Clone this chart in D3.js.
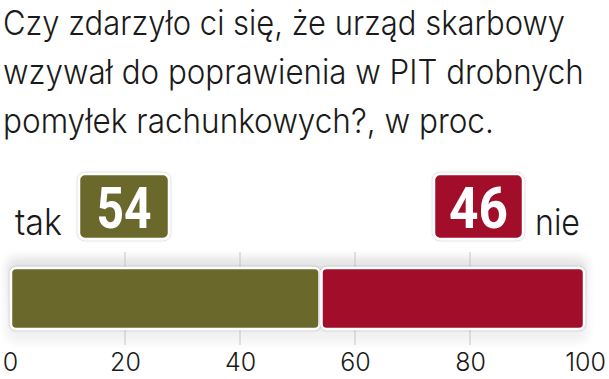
<!DOCTYPE html>
<html><head><meta charset="utf-8">
<script src="https://cdn.jsdelivr.net/npm/d3@7"></script>
<style>body{margin:0;background:#fff}svg{display:block}</style>
</head><body>
<script>
const titleLines = ["Czy zdarzyło ci się, że urząd skarbowy","wzywał do poprawienia w PIT drobnych","pomyłek rachunkowych?, w proc."];
const categories = ["tak","nie"];
const values = [54,46];
const colors = ["#6b6829","#a20e2b"];
const tickValues = [0,20,40,60,80,100];

const W=609,H=379;
const LIGHT="Inter";
const svg=d3.select("body").append("svg").attr("width",W).attr("height",H);
const defs=svg.append("defs");
const blur=defs.append("filter").attr("id","blur").attr("x","-10%").attr("y","-30%").attr("width","120%").attr("height","160%");
blur.append("feGaussianBlur").attr("stdDeviation",4);
const sh=defs.append("filter").attr("id","sh").attr("x","-20%").attr("y","-20%").attr("width","140%").attr("height","140%");
sh.append("feDropShadow").attr("dx",0).attr("dy",0).attr("stdDeviation",1.2).attr("flood-color","#000").attr("flood-opacity",0.35);
const grad=defs.append("linearGradient").attr("id","pg").attr("x1",0).attr("y1",0).attr("x2",0).attr("y2",1);
grad.append("stop").attr("offset",0).attr("stop-color","#e4e4e4");
grad.append("stop").attr("offset",1).attr("stop-color","#f3f3f3");

// fit a text horizontally to a target width by scaling
function fitX(sel, x0, y0, target, anchor){
  sel.each(function(d,i){
    const t=d3.select(this);
    const len=this.getComputedTextLength();
    const tw=typeof target==="function"?target(d,i):target;
    const xx=typeof x0==="function"?x0(d,i):x0;
    const yy=typeof y0==="function"?y0(d,i):y0;
    t.attr("x",0).attr("y",0).attr("transform",`translate(${xx},${yy}) scale(${tw/len},1)`);
  });
}

// title
const tfs=34, tLens=[562,581,491], tBase=[35,84,133];
const tt=svg.append("g").selectAll("text").data(titleLines).join("text")
  .attr("font-family",LIGHT).attr("font-weight",300).attr("font-size",tfs)
  .attr("fill","#1a1a1a").text(d=>d);
fitX(tt,3,(d,i)=>tBase[i],(d,i)=>tLens[i]);

const x=d3.scaleLinear().domain([0,100]).range([10,585]);

// shadow panel
svg.append("rect").attr("x",6).attr("y",257).attr("width",582).attr("height",86).attr("rx",10)
  .attr("fill","url(#pg)").attr("filter","url(#blur)");

// grid ticks
svg.append("g").selectAll("line").data(tickValues.filter(d=>d>0&&d<100)).join("line")
  .attr("x1",d=>x(d)).attr("x2",d=>x(d)).attr("y1",252).attr("y2",345)
  .attr("stroke","#c4c4c4").attr("stroke-width",1);

// bars
const stack=[]; let acc=0;
values.forEach((v,i)=>{stack.push({c:categories[i],v,x0:acc,x1:acc+v,col:colors[i]});acc+=v;});
svg.append("g").selectAll("rect").data(stack).join("rect")
  .attr("x",d=>x(d.x0)+1).attr("width",d=>x(d.x1)-x(d.x0)-2)
  .attr("y",268).attr("height",61).attr("rx",5)
  .attr("fill",d=>d.col).attr("stroke","#fff").attr("stroke-width",2.5)
  .attr("filter","url(#sh)");

// axis labels
const axis=d3.axisBottom(x).tickValues(tickValues).tickSize(0).tickPadding(0);
const ag=svg.append("g").attr("transform","translate(0,352)").call(axis);
ag.select(".domain").remove();
ag.selectAll("text").attr("font-family",LIGHT).attr("font-weight",300).attr("font-size",25)
  .attr("fill","#1a1a1a").attr("dy","0.74em");

// value boxes
const boxes=[{x:79,w:90,lx:15,llen:47,nlen:55},{x:434,w:89,lx:535,llen:45,nlen:59}];
const bg=svg.append("g").selectAll("g").data(stack).join("g");
bg.append("rect").attr("x",(d,i)=>boxes[i].x).attr("y",174).attr("width",(d,i)=>boxes[i].w).attr("height",65)
  .attr("rx",6).attr("fill",d=>d.col).attr("stroke","#fff").attr("stroke-width",2.5).attr("filter","url(#sh)");
const nums=bg.append("text")
  .attr("font-family","Roboto").attr("font-weight",700).attr("font-size",58).attr("fill","#fff")
  .text(d=>d.v);
fitX(nums,(d,i)=>boxes[i].x+boxes[i].w/2-boxes[i].nlen/2,228,(d,i)=>boxes[i].nlen);
const labs=bg.append("text")
  .attr("font-family",LIGHT).attr("font-weight",300).attr("font-size",37).attr("fill","#1a1a1a")
  .text(d=>d.c);
fitX(labs,(d,i)=>boxes[i].lx,235,(d,i)=>boxes[i].llen);
</script>
</body></html>
